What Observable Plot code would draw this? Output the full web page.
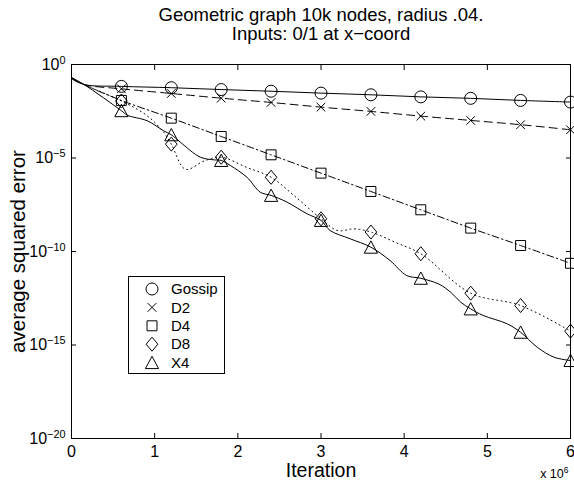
<!DOCTYPE html>
<html><head><meta charset="utf-8">
<script src="https://cdn.jsdelivr.net/npm/d3@7"></script>
<script src="https://cdn.jsdelivr.net/npm/@observablehq/plot@0.6"></script>
<style>
html,body{margin:0;padding:0;background:#fff;}
#wrap{position:relative;width:574px;height:481px;font-family:"Liberation Sans",Arial,Helvetica,sans-serif;}
#legend{position:absolute;left:128px;top:276px;width:97px;height:98px;border:1px solid #000;background:#fff;box-sizing:border-box;}
</style></head><body><div id="wrap"><div id="legend"></div></div>
<script>
// ---- data (iteration counts, average squared error) ----
const markerIters = [600000,1200000,1800000,2400000,3000000,3600000,4200000,4800000,5400000,6000000];
const xTicks = [0,1000000,2000000,3000000,4000000,5000000,6000000];
const yTicks = [1,1e-5,1e-10,1e-15,1e-20];

const gossipIter = [0,150000,600000,1200000,1800000,2400000,3000000,3600000,4200000,4800000,5400000,6000000];
const gossipErr  = [0.178,0.0851,0.0676,0.0575,0.0457,0.0372,0.0295,0.0240,0.0186,0.0155,0.0120,0.0098];

const d2Iter = [0,150000,600000,1200000,1800000,2400000,3000000,3600000,4200000,4800000,5400000,6000000];
const d2Err  = [0.178,0.0851,0.0501,0.0282,0.0158,0.00933,0.00525,0.00309,0.00174,0.00102,6.03e-4,3.24e-4];

const d4Iter = [0,150000,600000,1200000,1800000,2400000,3000000,3600000,4200000,4800000,5400000,6000000];
const d4Err  = [0.2,0.0851,0.0120,1.35e-3,1.41e-4,1.48e-5,1.55e-6,1.62e-7,1.70e-8,1.78e-9,2.09e-10,2.34e-11];

const d8Iter = [0,150000,600000,910000,1110000,1200000,1370000,1600000,1800000,2100000,2400000,2700000,3000000,3200000,3400000,3600000,3900000,4200000,4800000,5400000,6000000];
const d8Err  = [0.2,0.0851,0.0112,1.82e-3,2.29e-4,5.5e-5,2.5e-6,7.1e-6,1.10e-5,3.24e-6,9.3e-7,7.9e-8,5.6e-9,1.32e-9,1.62e-9,1.10e-9,3.0e-10,7.6e-11,5.9e-13,1.29e-13,5.5e-15];

const x4Iter = [0,150000,600000,670000,910000,1110000,1200000,1310000,1550000,1720000,1800000,1910000,2110000,2270000,2400000,2590000,2830000,3000000,3110000,3350000,3600000,3830000,4030000,4200000,4420000,4560000,4680000,4800000,4950000,5240000,5400000,5600000,5800000,6000000];
const x4Err  = [0.2,0.0851,3.39e-3,1.95e-3,9.8e-4,2.82e-4,1.74e-4,6.9e-5,1.10e-5,7.9e-6,7.4e-6,3.98e-6,9.3e-7,1.48e-7,1.0e-7,4.4e-8,1.05e-8,4.6e-9,1.32e-9,4.8e-10,1.70e-10,3.3e-11,5.2e-12,3.7e-12,1.78e-12,6.6e-13,1.95e-13,8.5e-14,3.8e-14,1.35e-14,4.8e-15,7.6e-16,2.24e-16,1.48e-16];

const seriesNames = ["Gossip","D2","D4","D8","X4"];
const titleLines = ["Geometric graph 10k nodes, radius .04.", "Inputs: 0/1 at x\u2212coord"];

// ---- marker shapes (MATLAB-like) ----
const symCircle = {draw(c,size){const r=Math.sqrt(size/Math.PI); c.moveTo(r,0); c.arc(0,0,r,0,2*Math.PI); c.closePath();}};
const symTimes = {draw(c,size){const r=Math.sqrt(size/Math.PI)*0.72; c.moveTo(-r,-r); c.lineTo(r,r); c.moveTo(-r,r); c.lineTo(r,-r);}};
const symSquare = {draw(c,size){const r=Math.sqrt(size/Math.PI)*0.83; c.moveTo(-r,-r); c.lineTo(r,-r); c.lineTo(r,r); c.lineTo(-r,r); c.closePath();}};
const symDiamond = {draw(c,size){const r=Math.sqrt(size/Math.PI); const w=0.97*r,h=1.17*r; c.moveTo(0,-h); c.lineTo(w,0); c.lineTo(0,h); c.lineTo(-w,0); c.closePath();}};
const symTriangle = {draw(c,size){const r=Math.sqrt(size/Math.PI); const w=1.1*r; c.moveTo(0,-1.05*r); c.lineTo(w,r); c.lineTo(-w,r); c.closePath();}};

const series = [
  {name:seriesNames[0], iters:gossipIter, errs:gossipErr, symbol:symCircle, dash:null},
  {name:seriesNames[1], iters:d2Iter, errs:d2Err, symbol:symTimes, dash:"8,5"},
  {name:seriesNames[2], iters:d4Iter, errs:d4Err, symbol:symSquare, dash:"7,3,1.5,3"},
  {name:seriesNames[3], iters:d8Iter, errs:d8Err, symbol:symDiamond, dash:"1,3.5"},
  {name:seriesNames[4], iters:x4Iter, errs:x4Err, symbol:symTriangle, dash:null}
];

const supFmt = d => "10^" + String(Math.round(Math.log10(d))).replace("-", "\u2212");

const marks = [];
for (const s of series) {
  const rows = s.iters.map((it, i) => ({iter: it, err: s.errs[i]}));
  marks.push(Plot.line(rows, {x:"iter", y:"err", curve:"catmull-rom", stroke:"black", strokeWidth:1, strokeDasharray: s.dash || undefined}));
  marks.push(Plot.dot(rows.filter(r => markerIters.includes(r.iter)), {x:"iter", y:"err", symbol:s.symbol, r:6, stroke:"black", fill:"none", strokeWidth:1}));
}

const chart = Plot.plot({
  width: 574, height: 481,
  marginTop: 64, marginRight: 4, marginBottom: 43, marginLeft: 71,
  style: {fontFamily: '"Liberation Sans",Arial,Helvetica,sans-serif', fontSize: "16px", color: "black", background: "white", overflow: "visible"},
  x: {domain: [0, 6000000], label: null},
  y: {type: "log", domain: [1e-20, 1], label: null},
  marks: [
    ...marks,
    Plot.frame({stroke: "black", strokeWidth: 1}),
    Plot.axisX({anchor: "bottom", ticks: xTicks, tickSize: -5, tickPadding: 12, tickFormat: d => String(d / 1e6), fontSize: 16, label: null}),
    Plot.axisX({anchor: "top", ticks: xTicks, tickSize: -5, tickFormat: () => "", label: null}),
    Plot.axisY({anchor: "left", ticks: yTicks, tickSize: -5, tickPadding: 11, tickFormat: supFmt, fontSize: 16, label: null}),
    Plot.axisY({anchor: "right", ticks: yTicks, tickSize: -5, tickFormat: () => "", label: null}),
    Plot.text([titleLines[0]], {frameAnchor: "top", dy: -49, lineAnchor: "middle", fontSize: 18.5, fill: "black"}),
    Plot.text([titleLines[1]], {frameAnchor: "top", dy: -30, lineAnchor: "middle", fontSize: 18.5, fill: "black"}),
    Plot.text(["Iteration"], {frameAnchor: "bottom", dy: 32, lineAnchor: "middle", fontSize: 19.5, fill: "black"}),
    Plot.text(["x 10^6"], {frameAnchor: "bottom-right", dy: 35, dx: -2, lineAnchor: "middle", textAnchor: "end", fontSize: 12.5, fill: "black"}),
    Plot.text(["average squared error"], {frameAnchor: "left", dx: -53, rotate: -90, textAnchor: "middle", lineAnchor: "middle", fontSize: 20.5, fill: "black"})
  ]
});

// superscripts
d3.select(chart).selectAll("text").each(function () {
  const t = this.textContent;
  if (this.childElementCount === 0 && t.includes("^")) {
    const [b, e] = t.split("^");
    const sel = d3.select(this);
    sel.text(null);
    sel.append("tspan").text(b);
    sel.append("tspan").attr("dy", "-0.55em").attr("font-size", "0.68em").text(e);
  }
});

const wrap = document.getElementById("wrap");
wrap.insertBefore(chart, wrap.firstChild);

// legend
const lg = d3.select("#legend").append("svg").attr("width", 95).attr("height", 96)
  .style("font-family", '"Liberation Sans",Arial,Helvetica,sans-serif');
series.forEach((s, i) => {
  const cy = 12 + i * 18.4;
  lg.append("path").attr("d", d3.symbol(s.symbol, Math.PI * 36)()).attr("transform", `translate(23,${cy})`)
    .attr("fill", "none").attr("stroke", "black").attr("stroke-width", 1);
  lg.append("text").attr("x", 42).attr("y", cy).attr("dy", "0.35em").attr("font-size", 15).attr("fill", "black").text(s.name);
});
</script>
</body></html>
